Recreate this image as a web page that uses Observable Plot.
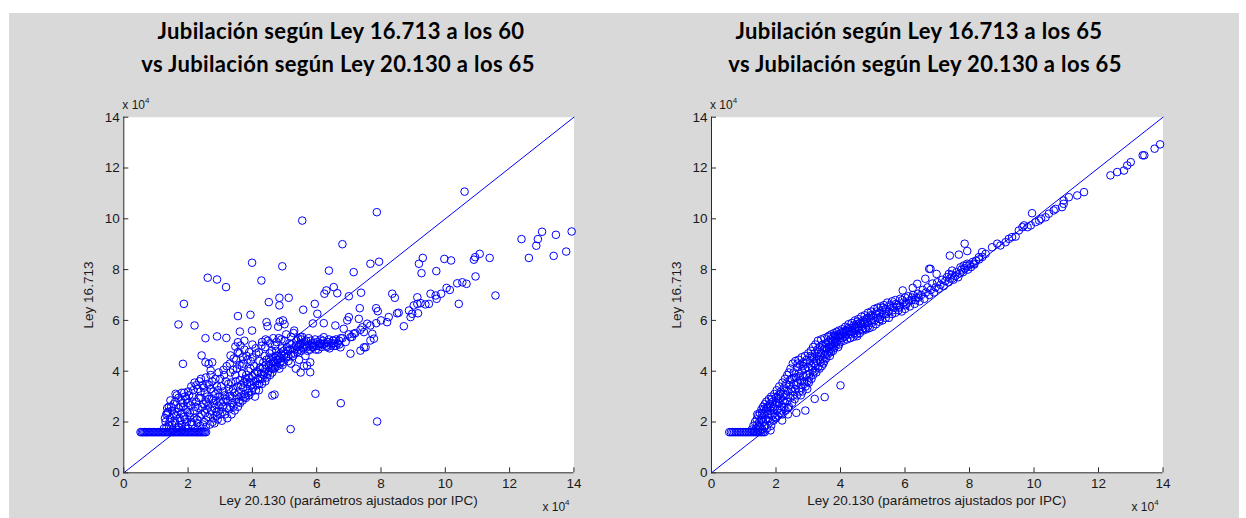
<!DOCTYPE html>
<html><head><meta charset="utf-8">
<script src="https://cdn.jsdelivr.net/npm/d3@7"></script>
<script src="https://cdn.jsdelivr.net/npm/@observablehq/plot@0.6"></script>
<style>
body{margin:0;background:#fff;width:1246px;height:518px;overflow:hidden;position:relative;font-family:"Liberation Sans",Arial,sans-serif}
#bg{position:absolute;left:9px;top:13px;width:1230px;height:505px;background:#d9d9d9}
.title{position:absolute;font-family:Lato,sans-serif;font-weight:bold;font-size:22px;letter-spacing:0.35px;line-height:22px;color:#000;white-space:nowrap;transform:translateX(-50%)}
.panel{position:absolute;top:80px}
.txt{position:absolute;font-size:13.5px;line-height:15px;color:#1a1a1a;white-space:nowrap}
.exp{position:absolute;font-size:12px;line-height:14px;color:#1a1a1a;white-space:nowrap}
.exp sup{font-size:8px;vertical-align:6px;line-height:0}
</style></head>
<body>
<div id="bg"></div>
<div id="root"></div>
<script>
// ---------- data (values in units of 10^4) ----------
const titles1 = ["Jubilación según Ley 16.713 a los 60", "vs Jubilación según Ley 20.130 a los 65"];
const titles2 = ["Jubilación según Ley 16.713 a los 65", "vs Jubilación según Ley 20.130 a los 65"];
const xLabel = "Ley 20.130 (parámetros ajustados por IPC)";
const yLabel = "Ley 16.713";
const xTicks = [0, 2, 4, 6, 8, 10, 12, 14];
const yTicks = [0, 2, 4, 6, 8, 10, 12, 14];
const diagonal = [0, 14];
const floorY = 1.6;

// Panel 1 (a los 60)
const p1FloorX = [0.52,0.56,0.6,0.64,0.68,0.72,0.76,0.8,0.84,0.88,0.92,0.96,1.0,1.04,1.08,1.12,1.16,1.2,1.24,1.28,1.32,1.36,1.4,1.44,1.48,1.52,1.56,1.6,1.64,1.68,1.72,1.76,1.8,1.84,1.88,1.92,1.96,2.0,2.04,2.08,2.12,2.16,2.2,2.24,2.28,2.32,2.36,2.4,2.44,2.48,2.52,2.56];
const p1Cloud = [
[1.25,1.75],[1.3,2.0],[1.32,2.3],[1.35,2.55],[1.4,1.85],[1.45,2.15],[1.5,2.45],[1.52,1.7],[1.55,2.7],[1.6,1.95],[1.62,2.25],[1.65,3.05],[1.7,2.55],[1.72,1.8],[1.75,2.05],[1.78,2.85],[1.8,2.35],[1.82,1.7],[1.85,2.6],[1.88,3.15],[1.9,2.1],[1.92,1.85],[1.95,2.9],[1.98,2.4],[2.0,3.2],[2.0,1.75],
[2.05,2.2],[2.08,2.65],[2.1,3.4],[2.12,1.9],[2.15,3.0],[2.18,2.45],[2.2,3.55],[2.22,1.75],[2.25,2.8],[2.28,2.1],[2.3,3.3],[2.32,2.55],[2.35,3.6],[2.38,1.85],[2.4,2.95],[2.42,2.3],[2.45,3.45],[2.48,2.7],[2.5,2.0],[2.52,3.15],[2.55,1.8],[2.58,2.5],[2.6,3.5],[2.62,2.2],[2.65,2.9],[2.68,1.9],[2.7,3.3],[2.72,2.45],[2.75,3.6],[2.78,2.15],[2.8,2.75],[2.82,1.95],[2.85,3.1],[2.88,2.4],[2.9,3.4],[2.92,2.1],[2.95,2.65],[2.98,3.0],[3.0,2.3],[3.0,3.7],
[3.05,2.05],[3.08,2.6],[3.1,3.2],[3.12,3.85],[3.15,2.3],[3.18,2.9],[3.2,4.2],[3.22,2.15],[3.25,3.5],[3.28,2.5],[3.3,3.0],[3.32,3.95],[3.35,2.3],[3.38,2.75],[3.4,3.3],[3.42,4.5],[3.45,2.45],[3.48,3.6],[3.5,2.9],[3.52,4.1],[3.55,2.6],[3.58,3.2],[3.6,4.7],[3.62,2.75],[3.65,3.45],[3.68,3.9],[3.7,2.85],[3.72,4.3],[3.75,3.1],[3.78,3.7],[3.8,2.95],[3.82,4.6],[3.85,3.3],[3.88,4.0],[3.9,3.05],[3.92,3.55],[3.95,4.4],[3.98,3.2],
[4.0,3.8],[4.02,3.35],[4.05,4.2],[4.08,3.0],[4.1,3.6],[4.12,4.7],[4.15,3.45],[4.18,3.95],[4.2,3.25],[4.22,4.4],[4.25,3.7],[4.28,5.0],[4.3,3.5],[4.32,4.1],[4.35,3.85],[4.38,4.6],[4.4,3.6],[4.42,4.25],[4.45,3.75],[4.48,5.2],[4.5,4.0],[4.52,4.5],[4.55,3.85],[4.58,4.15],[4.6,4.8],[4.62,3.95],[4.65,4.35],[4.68,4.1],[4.7,5.0],[4.72,4.25],[4.75,4.6],[4.78,4.2],[4.8,4.45],[4.82,5.3],[4.85,4.3],[4.88,4.7],[4.9,4.4],[4.92,4.9],[4.95,4.35],[4.98,4.6],
[5.0,5.2],[5.05,4.55],[5.1,4.8],[5.12,4.4],[5.15,5.1],[5.2,4.65],[5.25,4.9],[5.28,5.5],[5.3,4.7],[5.35,5.0],[5.4,4.75],[5.42,5.3],[5.45,4.85],[5.5,5.1],[5.52,4.8],[5.55,5.35],[5.6,4.95],[5.62,5.15],[5.65,4.6],[5.7,5.0],[5.75,5.3],[5.8,4.85],[5.85,5.1],[5.9,4.95],[5.95,5.25],[6.0,5.0],[6.05,4.85],[6.1,5.1],[6.15,4.95],[6.2,5.2],[6.3,5.0],[6.35,5.15],[6.4,4.9],[6.45,5.1],[6.5,5.2],[6.55,5.0],[6.6,5.25],[6.65,5.1],[6.7,5.2],[6.8,5.3],[6.9,5.15],[7.0,5.45],[7.1,5.35],[7.2,5.5],
[5.2,4.3],[5.35,4.1],[5.5,3.95],[5.6,4.2],[5.45,4.45],[5.8,3.96],[5.7,4.22],[5.8,4.35],[3.32,4.62],[3.47,4.97],[3.55,5.14],[3.63,5.01]
];
const p1Cloud2 = [
[1.28,2.15],[1.33,1.8],[1.38,2.4],[1.42,2.0],[1.47,2.6],[1.5,1.9],[1.55,2.3],[1.58,2.05],[1.6,2.8],[1.64,1.75],[1.67,2.4],[1.7,2.95],[1.73,2.15],[1.77,2.6],[1.8,1.9],[1.83,2.75],[1.87,2.2],[1.9,3.0],[1.93,2.5],[1.96,2.0],[1.99,2.75],
[2.03,3.05],[2.06,2.35],[2.1,2.0],[2.13,2.8],[2.16,3.25],[2.19,2.15],[2.23,2.6],[2.26,3.45],[2.29,1.95],[2.33,2.95],[2.36,2.2],[2.39,3.2],[2.43,2.6],[2.46,1.9],[2.49,3.35],[2.53,2.35],[2.56,2.8],[2.59,3.0],[2.63,2.65],[2.66,3.45],[2.69,2.3],[2.73,2.9],[2.76,2.0],[2.79,3.2],[2.83,2.55],[2.86,2.85],[2.89,2.25],[2.93,3.25],[2.96,2.45],[2.99,2.8],
[3.03,3.4],[3.07,2.4],[3.1,2.8],[3.14,3.05],[3.17,3.6],[3.21,2.55],[3.24,2.85],[3.27,3.3],[3.31,2.6],[3.34,3.55],[3.37,2.95],[3.41,2.6],[3.44,3.15],[3.47,3.85],[3.51,3.05],[3.54,3.4],[3.57,2.8],[3.61,3.65],[3.64,3.0],[3.67,4.2],[3.71,3.35],[3.74,3.55],[3.77,3.0],[3.81,3.85],[3.84,3.5],[3.87,3.15],[3.91,3.75],[3.94,4.1],[3.97,3.45],
[4.03,3.6],[4.07,3.9],[4.11,3.25],[4.14,4.0],[4.17,3.7],[4.21,3.5],[4.24,4.15],[4.27,3.9],[4.31,3.7],[4.34,4.35],[4.37,3.95],[4.41,4.1],[4.44,4.45],[4.47,3.9],[4.51,4.25],[4.54,4.7],[4.57,4.3],[4.61,4.1],[4.64,4.55],[4.67,4.4],[4.71,4.15],[4.74,4.8],[4.77,4.45],[4.81,4.6],[4.84,4.1],[4.87,4.5],[4.91,4.65],[4.94,4.25],[4.97,4.8],
[5.02,4.7],[5.07,4.95],[5.12,4.6],[5.17,4.85],[5.22,5.05],[5.27,4.6],[5.32,4.85],[5.37,5.2],[5.42,4.95],[5.47,5.05],[5.52,5.25],[5.57,4.9],[5.62,5.05],[5.67,5.2],[5.72,4.8],[5.77,5.05],[5.82,5.2],[5.87,4.95],[5.92,5.1],[5.97,4.85],[6.02,5.15],[6.07,5.0],[6.12,5.25],[6.17,5.05],[6.25,5.1],[6.32,4.95],[6.38,5.25],[6.45,5.0],[6.52,5.1],[6.6,5.0],[6.7,5.05],[6.75,5.3],
[3.3,4.3],[3.4,4.05],[3.5,4.45],[3.6,4.25],[3.7,4.55],[3.75,4.85],[3.85,4.45],[3.9,4.75],[4.0,4.55],[4.1,4.9],[4.2,4.75],[4.3,5.15],[4.4,4.95],[4.55,5.1],[4.65,5.3],[4.75,5.15],[4.9,5.25],[5.05,5.45],[5.2,5.35],[5.3,5.6],[4.0,5.05],[3.75,5.2],[3.55,4.75],
[2.55,3.75],[2.7,3.85],[2.85,3.7],[2.95,3.95],[3.1,4.05],[2.4,3.7],[1.45,2.85],[1.35,2.35],[1.4,2.6]
];
const p1Scatter = [
[5.55,9.93],[6.8,9.0],[3.99,8.27],[4.93,8.13],[6.38,7.96],[2.61,7.68],[2.9,7.61],[3.18,7.31],[4.28,7.57],[1.87,6.65],[4.51,6.72],[4.84,6.59],[4.84,6.89],[5.13,6.89],[5.94,6.65],[5.58,6.42],[6.02,6.26],[6.3,7.18],[6.53,7.31],[6.24,7.05],[6.64,7.07],[1.7,5.84],[2.2,5.8],[3.55,6.17],[3.94,6.22],[2.54,5.3],[2.9,5.37],[3.19,5.31],[3.61,5.56],[3.99,5.6],[4.41,5.25],[4.44,5.93],[4.47,5.77],[4.8,5.75],[4.85,5.95],[4.95,6.0],[5.0,5.85],[2.42,4.62],[1.84,4.29],[2.54,4.35],[2.64,4.29],[2.75,4.35],[2.7,4.03],[1.61,3.11],[1.8,3.15],[5.96,3.11],[4.62,3.04],[4.69,3.08],[5.19,1.72],[6.75,2.74],[7.88,2.02],
[10.6,11.07],[7.87,10.26],[7.15,7.9],[7.67,8.23],[7.94,8.31],[7.0,6.95],[7.38,7.09],[5.88,5.88],[6.22,5.89],[7.34,6.48],[7.85,6.48],[7.9,6.36],[8.35,7.05],[8.43,6.89],[9.3,8.46],[9.18,8.23],[9.26,7.86],[9.72,7.94],[9.97,8.42],[10.18,8.36],[10.93,8.49],[11.07,8.62],[10.89,8.39],[11.38,8.46],[10.94,7.73],[11.56,6.98],[10.42,6.65],[12.37,9.2],[12.88,9.2],[13.01,9.49],[12.83,8.94],[12.6,8.46],[13.44,9.37],[13.37,8.54],[13.93,9.5],[13.76,8.71],
[9.13,6.91],[9.54,7.05],[9.7,6.98],[9.73,6.85],[9.87,7.05],[10.04,7.28],[10.14,7.2],[10.37,7.46],[10.53,7.5],[10.66,7.44],[8.87,6.39],[9.02,6.59],[9.13,6.65],[9.23,6.68],[9.38,6.63],[9.49,6.65],[8.92,6.13],[9.15,6.28],[8.97,6.26],[8.24,6.13],[8.5,6.28],[8.55,6.3],[8.0,6.0],[7.85,5.89],[8.19,5.93],[7.67,5.8],[7.36,5.63],[7.47,5.54],[7.52,4.94],[7.67,5.21],[7.78,5.28],[7.36,4.81],[8.71,5.77],
[7.57,5.87],[7.42,5.73],[7.15,5.47],[7.05,5.34],[6.84,5.67],[6.58,5.8],[6.95,6.0],[7.0,6.13],[7.31,6.06],[7.73,5.47],[7.47,4.94],[7.05,4.69],[6.74,4.94],[6.53,5.21],[6.12,5.08],[5.91,5.01],[5.7,4.94],[6.22,5.34],[5.5,5.34]
];

// Panel 2 (a los 65)
const p2FloorX = [0.55,0.6,0.65,0.7,0.75,0.8,0.85,0.9,0.95,1.0,1.05,1.1,1.15,1.2,1.25,1.3,1.35,1.4,1.45,1.5,1.55,1.6,1.65];
const p2Band = [
[1.25,1.7],[1.3,1.85],[1.32,1.65],[1.35,2.0],[1.38,1.75],[1.4,2.1],[1.42,1.9],[1.45,1.68],[1.45,2.25],[1.48,2.0],[1.5,2.35],[1.52,1.8],[1.55,2.15],[1.55,2.5],[1.58,1.7],[1.6,2.0],[1.6,2.6],[1.62,2.3],[1.65,1.85],[1.65,2.7],[1.68,2.45],[1.7,2.1],[1.7,2.8],[1.72,1.75],[1.75,2.6],[1.75,2.3],[1.78,2.9],[1.8,2.05],[1.8,2.7],[1.82,2.45],[1.85,1.85],[1.85,3.0],[1.88,2.25],[1.9,2.8],[1.9,2.55],[1.92,2.05],[1.95,3.1],[1.95,2.35],[1.98,2.7],[2.0,2.15],[2.0,2.95],[2.02,3.25],[2.05,2.5],[2.05,2.25],[2.08,3.05],[2.1,2.75],[2.1,3.4],[2.12,2.35],[2.15,2.95],[2.15,3.2],[2.18,2.6],[2.2,3.55],[2.2,2.3],[2.22,2.85],[2.25,3.35],[2.25,2.6],[2.28,3.7],[2.3,3.05],[2.3,2.45],[2.32,3.5],[2.35,2.8],[2.35,3.85],[2.38,3.2],[2.4,2.6],[2.4,3.95],[2.42,3.45],[2.45,2.95],[2.45,4.1],[2.48,3.7],[2.5,3.2],[2.5,2.75],[2.52,4.3],[2.55,3.5],[2.55,3.95],[2.58,2.9],[2.6,4.4],[2.6,3.3],[2.62,3.75],[2.65,4.15],[2.65,3.05],[2.68,3.55],[2.7,4.45],[2.7,3.9],[2.72,3.2],[2.75,4.25],[2.75,3.65],[2.78,3.35],[2.8,4.55],[2.8,4.0],[2.82,3.2],[2.85,3.8],[2.85,4.35],[2.88,3.5],[2.9,4.6],[2.9,4.1],[2.92,3.4],[2.95,3.85],[2.95,4.45],[2.98,3.6],[3.0,4.7],[3.0,4.15],
[3.02,3.55],[3.05,4.4],[3.05,3.9],[3.08,4.8],[3.1,3.7],[3.1,4.2],[3.12,4.55],[3.15,3.85],[3.15,4.95],[3.18,4.3],[3.2,4.0],[3.2,4.7],[3.22,5.05],[3.25,4.4],[3.25,3.95],[3.28,4.85],[3.3,4.15],[3.3,5.2],[3.32,4.55],[3.35,4.1],[3.35,4.95],[3.38,4.35],[3.4,5.25],[3.4,4.7],[3.42,4.2],[3.45,5.05],[3.45,4.5],[3.48,4.85],[3.5,4.4],[3.5,5.3],[3.52,4.65],[3.55,5.1],[3.55,4.5],[3.58,4.9],[3.6,5.35],[3.6,4.65],[3.62,5.15],[3.65,4.8],[3.65,5.4],[3.68,5.0],[3.7,4.75],[3.7,5.25],[3.72,5.45],[3.75,4.95],[3.75,5.15],[3.78,5.35],[3.8,4.9],[3.8,5.5],[3.82,5.1],[3.85,5.3],[3.85,5.0],[3.88,5.55],[3.9,5.2],[3.92,5.4],[3.95,5.05],[3.95,5.6],[3.98,5.3],[4.0,5.5],[4.0,5.15],
[4.05,5.65],[4.05,5.3],[4.1,5.5],[4.1,5.2],[4.15,5.75],[4.15,5.4],[4.2,5.6],[4.2,5.25],[4.25,5.85],[4.25,5.45],[4.3,5.7],[4.3,5.3],[4.35,5.9],[4.35,5.55],[4.4,5.8],[4.4,5.35],[4.45,6.0],[4.45,5.6],[4.5,5.85],[4.5,5.45],[4.55,6.05],[4.55,5.7],[4.6,5.9],[4.6,5.5],[4.65,6.15],[4.65,5.75],[4.7,6.0],[4.7,5.6],[4.75,6.2],[4.75,5.85],[4.8,6.05],[4.8,5.65],[4.85,6.3],[4.85,5.9],[4.9,6.1],[4.9,5.7],[4.95,6.35],[4.95,6.0],[5.0,6.2],[5.0,5.75],
[5.05,6.45],[5.05,6.0],[5.1,6.25],[5.1,5.85],[5.15,6.5],[5.15,6.1],[5.2,6.3],[5.2,5.95],[5.25,6.55],[5.25,6.15],[5.3,6.4],[5.3,6.0],[5.35,6.6],[5.35,6.25],[5.4,6.45],[5.4,6.1],[5.45,6.7],[5.5,6.35],[5.5,6.1],[5.55,6.55],[5.6,6.75],[5.6,6.25],[5.65,6.5],[5.7,6.3],[5.7,6.8],[5.75,6.6],[5.8,6.4],[5.85,6.85],[5.85,6.55],[5.9,6.35],[5.95,6.7],[6.0,6.9],[6.0,6.45],[6.05,6.65],[6.1,6.95],[6.15,6.55],[6.2,6.8],[6.25,7.0],[6.3,6.65],[6.35,6.9],[6.4,7.05],[6.45,6.75],[6.5,7.0],[6.55,7.2],[6.6,6.85],[6.65,7.1],[6.7,7.3],[6.75,7.0],[6.8,7.2],[6.85,7.45],[6.9,7.1],[6.95,7.3],[7.0,7.5],[7.05,7.25],[7.1,7.4],[7.15,7.6],[7.2,7.35],[7.25,7.55],[7.3,7.7],[7.35,7.5],[7.4,7.65],[7.45,7.8],[7.5,7.6],[7.55,7.75],[7.6,7.9],[7.65,7.7],[7.7,7.85],[7.75,8.0],[7.8,7.9],[7.85,8.05],[7.9,8.15],[7.95,8.0],[8.0,8.2],[8.05,8.1],[8.1,8.3],[8.15,8.2],[8.2,8.35],[8.3,8.4],[8.4,8.5]
];
const p2Band2 = [
[1.42,2.3],[1.47,1.85],[1.53,2.05],[1.57,2.35],[1.63,2.5],[1.67,2.1],[1.73,2.55],[1.77,2.15],[1.83,2.6],[1.87,2.9],[1.93,2.6],[1.97,2.2],[2.03,2.75],[2.07,2.9],[2.13,3.1],[2.17,2.45],[2.23,3.1],[2.27,2.75],[2.33,3.25],[2.37,2.55],[2.43,3.65],[2.47,3.3],[2.53,3.05],[2.57,3.75],[2.63,3.45],[2.67,4.3],[2.73,3.8],[2.77,3.05],[2.83,4.2],[2.87,3.6],[2.93,4.3],[2.97,3.3],[3.03,3.75],[3.07,4.6],[3.13,4.05],[3.17,4.5],[3.23,4.2],[3.27,4.6],[3.33,4.75],[3.37,4.45],[3.43,4.9],[3.47,4.3],[3.53,4.95],[3.57,4.7],[3.63,4.95],[3.67,4.6],[3.73,5.05],[3.77,4.8],[3.83,5.4],[3.87,5.15],[3.93,4.95],[3.97,5.45],[4.03,5.4],[4.07,5.55],[4.13,5.35],[4.17,5.6],[4.23,5.7],[4.27,5.55],[4.33,5.45],[4.37,5.7],[4.43,5.5],[4.47,5.75],[4.53,5.95],[4.57,5.6],[4.63,5.85],[4.67,5.65],[4.73,5.95],[4.77,5.7],[4.83,6.1],[4.87,5.8],[4.93,6.2],[4.97,5.9],[5.12,6.35],[5.22,6.05],[5.32,6.5],[5.42,6.25],[5.52,6.6],[5.62,6.4],[5.72,6.65],[5.82,6.5],[5.92,6.8],[6.02,6.6],[6.12,6.75],[6.22,6.9],[6.32,6.8],[6.42,6.9]
];
const p2Scatter = [
[1.83,1.67],[2.19,2.06],[2.37,2.3],[2.63,2.36],[2.91,2.45],[3.2,2.91],[3.51,2.98],[4.0,3.44],[4.52,5.38],
[5.93,7.18],[6.24,7.28],[6.38,7.44],[6.63,7.64],[6.75,8.03],[6.98,7.83],[6.79,8.03],
[7.39,8.55],[7.67,8.59],[7.85,9.02],[7.93,8.73],[7.36,7.83],[7.46,7.96],[7.72,8.09],[7.82,8.16],[7.93,8.23],[8.13,8.23],[8.29,8.49],[8.39,8.69],[8.5,8.62],
[8.7,8.88],[8.86,9.02],[8.96,8.95],[9.12,9.08],[9.22,9.21],[9.32,9.28],[9.43,9.3],[9.53,9.54],[9.64,9.67],[9.69,9.74],[9.8,9.67],[9.9,9.74],[9.94,10.22],[10.05,9.87],[10.16,9.93],[10.22,10.0],[10.36,10.06],[10.46,10.2],[10.61,10.33],[10.67,10.39],[10.87,10.46],[10.92,10.59],[10.92,10.72],[11.08,10.85],[11.34,10.92],[11.55,11.05],[12.37,11.71],[12.58,11.84],[12.79,11.9],[12.89,12.1],[13.0,12.23],[13.37,12.5],[13.42,12.5],[13.74,12.76],[13.91,12.93]
];

// ---------- drawing ----------
const blue = "#0000ff";
const axisColor = "#2b2b2b";

function makePanel(floorX, bands, scatter, ml, mr) {
  const floorPts = floorX.map(x => [x, floorY]);
  const all = floorPts.concat(...bands, scatter);
  return Plot.plot({
    width: 610, height: 438,
    marginLeft: ml, marginRight: mr, marginTop: 36.7, marginBottom: 45.7,
    x: {domain: [0, 14]},
    y: {domain: [0, 14]},
    style: {background: "transparent", fontFamily: "'Liberation Sans', Arial, sans-serif", fontSize: "13.5px", color: "#1a1a1a", overflow: "visible"},
    marks: [
      Plot.frame({fill: "white"}),
      Plot.line(diagonal, {x: d => d, y: d => d, stroke: blue, strokeWidth: 1}),
      Plot.dot(all, {x: d => d[0], y: d => d[1], r: 3.8, stroke: blue, strokeWidth: 1, fill: "none"}),
      Plot.ruleX([0], {stroke: axisColor}),
      Plot.ruleY([0], {stroke: axisColor}),
      Plot.axisX(xTicks, {anchor: "bottom", tickSize: -5, tickPadding: 11, stroke: axisColor, fill: "#1a1a1a", label: null, tickFormat: d => String(d)}),
      Plot.axisY(yTicks, {anchor: "left", tickSize: -5, tickPadding: 9, stroke: axisColor, fill: "#1a1a1a", label: null, tickFormat: d => String(d)})
    ]
  });
}

const root = document.getElementById("root");
function addDiv(cls, html, style) {
  const d = document.createElement("div");
  d.className = cls; d.innerHTML = html;
  Object.assign(d.style, style);
  root.appendChild(d);
  return d;
}

const panels = [
  {left: 9, ml: 114.3, mr: 45.6, titles: titles1, tc: [341, 338], floorX: p1FloorX, bands: [p1Cloud, p1Cloud2], scatter: p1Scatter, ax0: 123.3, ax14: 573.4},
  {left: 623, ml: 88, mr: 70.5, titles: titles2, tc: [919, 925], floorX: p2FloorX, bands: [p2Band, p2Band2], scatter: p2Scatter, ax0: 711, ax14: 1162.5}
];

for (const p of panels) {
  addDiv("title", p.titles[0], {left: p.tc[0] + "px", top: "20px"});
  addDiv("title", p.titles[1], {left: p.tc[1] + "px", top: "53px"});
  const svg = makePanel(p.floorX, p.bands, p.scatter, p.ml, p.mr);
  const wrap = document.createElement("div");
  wrap.className = "panel";
  wrap.style.left = p.left + "px";
  wrap.appendChild(svg);
  root.appendChild(wrap);
  addDiv("txt", yLabel, {left: (p.ax0 - 35) + "px", top: "294.5px", transform: "translate(-50%,-50%) rotate(-90deg)"});
  addDiv("txt", xLabel, {left: ((p.ax0 + p.ax14) / 2) + "px", top: "493px", transform: "translateX(-50%)"});
  addDiv("exp", "x 10<sup>4</sup>", {left: (p.ax0 - 1) + "px", top: "98px"});
  addDiv("exp", "x 10<sup>4</sup>", {left: (p.ax14 - 31) + "px", top: "500px"});
}
</script>
</body></html>
